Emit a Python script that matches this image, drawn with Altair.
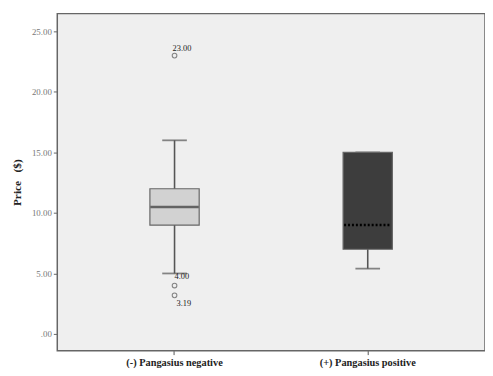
import altair as alt
import pandas as pd

groups = ["(-) Pangasius negative", "(+) Pangasius positive"]
q1 = [9.0, 7.0]
median = [10.5, 9.0]
q3 = [12.0, 15.0]
whisk_lo = [5.0, 5.4]
whisk_hi = [16.0, 15.0]
box_fill = ["#d2d2d2", "#3d3d3d"]

out_group = ["(-) Pangasius negative", "(-) Pangasius negative", "(-) Pangasius negative"]
out_value = [23.0, 4.0, 3.19]
out_label = ["23.00", "4.00", "3.19"]
y_ticks = [0, 5, 10, 15, 20, 25]

boxes = pd.DataFrame({"group": groups, "q1": q1, "median": median, "q3": q3,
                      "lo": whisk_lo, "hi": whisk_hi, "fill": box_fill})
outs = pd.DataFrame({"group": out_group, "value": out_value, "label": out_label})

serif = "Liberation Serif"
xenc = alt.X("group:N", sort=groups,
             scale=alt.Scale(paddingInner=0, paddingOuter=0.107),
             axis=alt.Axis(title=None, domain=False, labelAngle=0, labelFont=serif,
                           labelFontWeight="bold", labelFontSize=10.5, labelColor="#222",
                           tickColor="#555", tickSize=4, labelPadding=3))
yscale = alt.Scale(domain=[-1.38, 26.47], nice=False, zero=False)
yaxis = alt.Axis(title="Price\u00a0\u00a0\u00a0($)", values=y_ticks, grid=False, domain=False,
                 labelExpr="datum.value == 0 ? '.00' : format(datum.value, '.2f')",
                 labelFont=serif, labelFontSize=9, labelColor="#777", tickColor="#666",
                 tickSize=4, labelPadding=2, titleFont=serif, titleFontWeight="bold",
                 titleFontSize=11.5, titleColor="#222", titlePadding=9)

base = alt.Chart(boxes)

whisk = base.mark_rule(color="#555", strokeWidth=1.6).encode(
    x=xenc, y=alt.Y("lo:Q", scale=yscale, axis=yaxis), y2="hi:Q")
cap_lo = base.mark_tick(color="#555", size=25, thickness=1.8, orient="horizontal").encode(
    x=alt.X("group:N", sort=groups), y=alt.Y("lo:Q", scale=yscale))
cap_hi = base.mark_tick(color="#555", size=25, thickness=1.8, orient="horizontal").encode(
    x=alt.X("group:N", sort=groups), y=alt.Y("hi:Q", scale=yscale))
box = base.mark_bar(size=50, stroke="#666", strokeWidth=1.2).encode(
    x=alt.X("group:N", sort=groups), y=alt.Y("q1:Q", scale=yscale), y2="q3:Q",
    fill=alt.Fill("fill:N", scale=None))
med1 = alt.Chart(boxes.iloc[[0]]).mark_tick(color="#333", size=49, thickness=2.5,
                                            orient="horizontal").encode(
    x=alt.X("group:N", sort=groups), y=alt.Y("median:Q", scale=yscale))
med2 = alt.Chart(boxes.iloc[[1]]).mark_rule(color="#000", strokeWidth=2.5,
                                            strokeDash=[2, 2], xOffset=-24,
                                            x2Offset=24).encode(
    x=alt.X("group:N", sort=groups), x2="group:N",
    y=alt.Y("median:Q", scale=yscale))

pts = alt.Chart(outs).mark_point(shape="circle", filled=False, color="#555",
                                 size=22, strokeWidth=1.1).encode(
    x=alt.X("group:N", sort=groups), y=alt.Y("value:Q", scale=yscale))

lab_style = dict(align="left", font=serif, fontSize=8.5, color="#222")
t0 = alt.Chart(outs.iloc[[0]]).mark_text(dx=-2, dy=-8, **lab_style).encode(
    x=alt.X("group:N", sort=groups), y=alt.Y("value:Q", scale=yscale), text="label:N")
t1 = alt.Chart(outs.iloc[[1]]).mark_text(dx=0, dy=-10, **lab_style).encode(
    x=alt.X("group:N", sort=groups), y=alt.Y("value:Q", scale=yscale), text="label:N")
t2 = alt.Chart(outs.iloc[[2]]).mark_text(dx=2, dy=8, **lab_style).encode(
    x=alt.X("group:N", sort=groups), y=alt.Y("value:Q", scale=yscale), text="label:N")

chart = alt.layer(whisk, cap_lo, cap_hi, box, med1, med2, pts, t0, t1, t2).properties(
    width=434, height=342,
    background="white",
    autosize=alt.AutoSizeParams(type="none"),
    padding={"left": 50, "top": 3, "right": 0, "bottom": 23},
).configure_view(fill="#efefef", stroke="#666", strokeWidth=1.5)

chart.save("out.html", embed_options={"renderer": "svg", "actions": False})
